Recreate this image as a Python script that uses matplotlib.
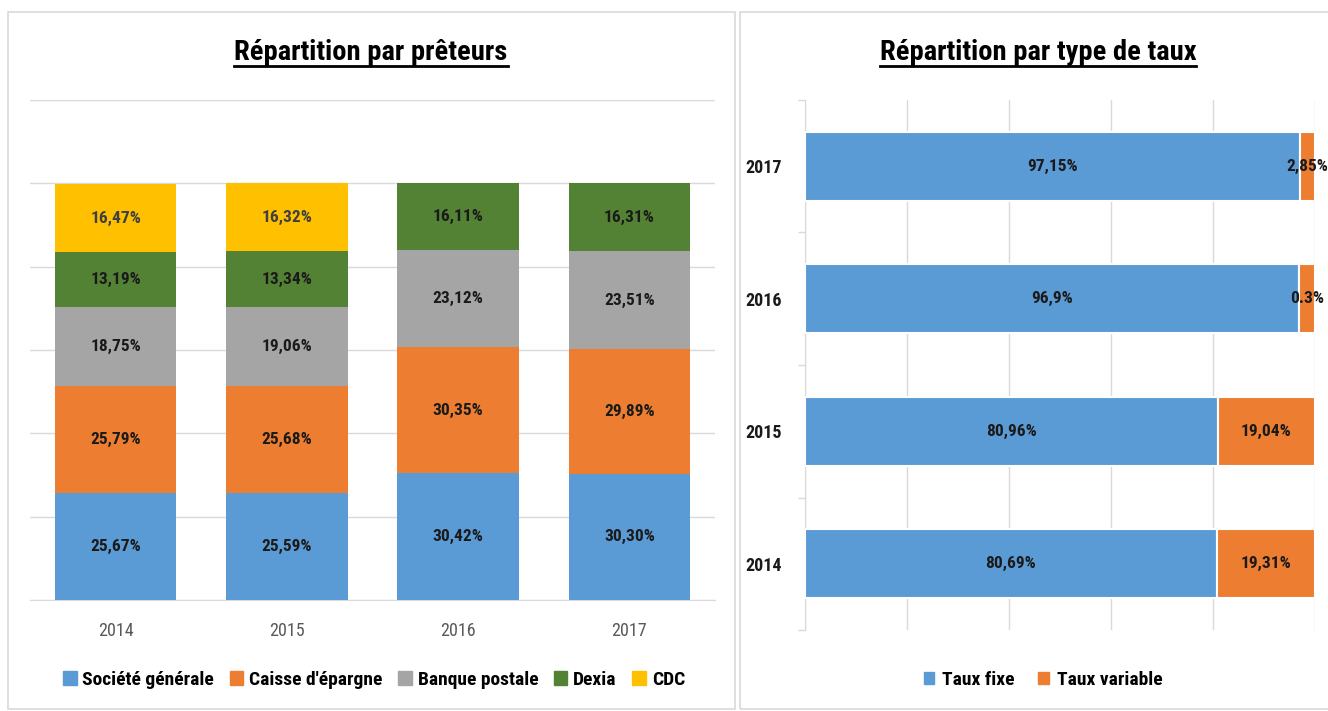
import matplotlib
matplotlib.use("Agg")
import matplotlib.pyplot as plt
from matplotlib.patches import Rectangle, Patch
from matplotlib import font_manager
import numpy as np

# ---- data: left chart ----
years = ["2014", "2015", "2016", "2017"]
preteurs = ["Société générale", "Caisse d'épargne", "Banque postale", "Dexia", "CDC"]
societe_generale = [25.67, 25.59, 30.42, 30.30]
caisse_epargne = [25.79, 25.68, 30.35, 29.89]
banque_postale = [18.75, 19.06, 23.12, 23.51]
dexia = [13.19, 13.34, 16.11, 16.31]
cdc = [16.47, 16.32, 0.0, 0.0]
preteur_colors = ["#5B9BD5", "#ED7D31", "#A5A5A5", "#548235", "#FFC000"]

# ---- data: right chart ----
taux_types = ["Taux fixe", "Taux variable"]
taux_fixe = [80.69, 80.96, 96.9, 97.15]
taux_variable = [19.31, 19.04, 3.1, 2.85]
taux_fixe_labels = ["80,69%", "80,96%", "96,9%", "97,15%"]
taux_variable_labels = ["19,31%", "19,04%", "0.3%", "2,85%"]
taux_colors = ["#5B9BD5", "#ED7D31"]

# ---- font: pick a condensed sans if available ----
fams = {}
for f in font_manager.fontManager.ttflist:
    fams.setdefault(f.name, []).append((str(f.stretch), f.weight))
chosen = None
for cand in ["Liberation Sans Narrow", "Roboto Condensed", "Open Sans Condensed",
             "Noto Sans Condensed", "DejaVu Sans Condensed"]:
    if cand in fams:
        chosen = (cand, "normal")
        break
if chosen is None:
    for cand in ["Noto Sans", "Open Sans", "Roboto", "DejaVu Sans"]:
        if cand in fams and any("condensed" in s for s, w in fams[cand]):
            chosen = (cand, "condensed")
            break
if chosen is None:
    chosen = ("DejaVu Sans", "normal")
plt.rcParams['font.family'] = [chosen[0], 'DejaVu Sans']
plt.rcParams['font.stretch'] = chosen[1]

W, H = 1328, 711
fig = plt.figure(figsize=(W / 100, H / 100), dpi=100)

def fx(px):
    return px / W

def fy(py):
    return 1 - py / H

# panel borders
for x0, x1 in [(8, 735), (740, 1335)]:
    fig.patches.append(Rectangle((fx(x0), fy(709)), fx(x1 - x0), (709 - 12) / H,
                                 transform=fig.transFigure, fill=False,
                                 edgecolor="#D9D9D9", linewidth=1.2))

def fmt(v):
    return ("%.2f%%" % v).replace(".", ",")

LBL = 12.5

# ---------------- left chart ----------------
ax1 = fig.add_axes([fx(30), fy(600), fx(685), 500 / H])
x = np.arange(len(years))
series = [societe_generale, caisse_epargne, banque_postale, dexia, cdc]
bottom = np.zeros(len(years))
for name, vals, col in zip(preteurs, series, preteur_colors):
    vals = np.array(vals)
    ax1.bar(x, vals, bottom=bottom, width=0.71, color=col, label=name, zorder=3)
    for xi, b, v in zip(x, bottom, vals):
        if v > 0:
            tc = "#3F3F3F" if col == "#FFC000" else "#1A1A1A"
            ax1.text(xi, b + v / 2, fmt(v), ha="center", va="center",
                     fontsize=LBL, fontweight="bold", color=tc, zorder=4)
    bottom += vals
ax1.set_xlim(-0.5, len(years) - 0.5)
ax1.set_ylim(0, 120)
ax1.set_yticks(np.arange(0, 121, 20))
ax1.yaxis.grid(True, color="#D9D9D9", linewidth=1)
ax1.set_axisbelow(True)
ax1.tick_params(axis="y", left=False, labelleft=False)
ax1.tick_params(axis="x", bottom=False, labelsize=13, labelcolor="#595959", pad=12)
ax1.set_xticks(x)
ax1.set_xticklabels(years)
for s in ["top", "right", "left"]:
    ax1.spines[s].set_visible(False)
ax1.spines["bottom"].set_color("#D9D9D9")

fig.legend(handles=[Patch(color=c, label=n) for n, c in zip(preteurs, preteur_colors)],
           loc="center", bbox_to_anchor=(fx(374), fy(680)), ncol=5, frameon=False,
           handlelength=0.7, handleheight=0.7, handletextpad=0.3,
           columnspacing=0.8, prop={"weight": "bold", "size": 14})

# ---------------- right chart ----------------
ax2 = fig.add_axes([fx(805), fy(630), fx(510), 530 / H])
y = np.arange(len(years))
ax2.barh(y, taux_fixe, height=0.52, color=taux_colors[0], edgecolor="white",
         linewidth=1.5, label=taux_types[0], zorder=3)
ax2.barh(y, taux_variable, left=taux_fixe, height=0.52, color=taux_colors[1],
         edgecolor="white", linewidth=1.5, label=taux_types[1], zorder=3)
for yi, f, v, lf, lv in zip(y, taux_fixe, taux_variable, taux_fixe_labels, taux_variable_labels):
    ax2.text(f / 2, yi, lf, ha="center", va="center", fontsize=LBL,
             fontweight="bold", color="#1A1A1A", zorder=4)
    ax2.text(f + v / 2, yi, lv, ha="center", va="center", fontsize=LBL,
             fontweight="bold", color="#1A1A1A", zorder=4, clip_on=False)
ax2.set_xlim(0, 100)
ax2.set_ylim(-0.5, len(years) - 0.5)
ax2.set_xticks(np.arange(0, 101, 20))
ax2.xaxis.grid(True, color="#D9D9D9", linewidth=1)
ax2.set_axisbelow(True)
ax2.tick_params(axis="x", bottom=False, labelbottom=False)
ax2.set_yticks(y)
ax2.set_yticklabels(years, fontweight="bold", fontsize=13, color="#1A1A1A")
ax2.tick_params(axis="y", which="major", left=False, pad=13)
ax2.set_yticks(np.arange(-0.5, len(years), 1.0), minor=True)
ax2.tick_params(axis="y", which="minor", left=True, length=5, color="#D9D9D9", width=1)
for s in ["top", "right", "bottom"]:
    ax2.spines[s].set_visible(False)
ax2.spines["left"].set_color("#D9D9D9")

fig.legend(handles=[Patch(color=c, label=n) for n, c in zip(taux_types, taux_colors)],
           loc="center", bbox_to_anchor=(fx(1043), fy(680)), ncol=2, frameon=False,
           handlelength=0.55, handleheight=0.55, handletextpad=0.4,
           columnspacing=1.2, prop={"weight": "bold", "size": 14})

# titles with underline
titles = []
for txt, cx in [("Répartition par prêteurs", 371), ("Répartition par type de taux", 1038)]:
    titles.append(fig.text(fx(cx), fy(52), txt, ha="center", va="center",
                           fontsize=20.5, fontweight="bold", color="black"))
fig.canvas.draw()
renderer = fig.canvas.get_renderer()
for t in titles:
    bb = t.get_window_extent(renderer).transformed(fig.transFigure.inverted())
    uy = fy(66)
    fig.add_artist(plt.Line2D([bb.x0, bb.x1], [uy, uy], transform=fig.transFigure,
                              color="black", linewidth=2))

fig.savefig("out.png", dpi=100)
